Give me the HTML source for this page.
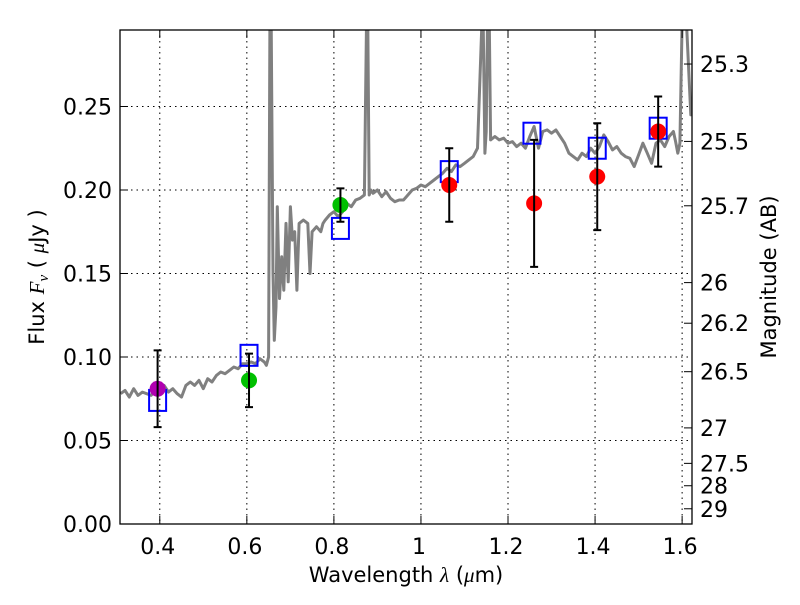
<!DOCTYPE html>
<html><head><meta charset="utf-8"><style>
body{margin:0;background:#fff;}
svg text{font-family:"DejaVu Sans","Liberation Sans",sans-serif;}
</style></head><body>
<svg id="chart" width="800" height="600" xmlns="http://www.w3.org/2000/svg">
<rect width="800" height="600" fill="#fff"/>
<defs><clipPath id="clip"><rect x="120" y="30" width="572" height="494"/></clipPath></defs>
<g id="grid"></g>
<g id="plot" clip-path="url(#clip)"></g>
<g id="axes"></g>
<rect x="120" y="30" width="572" height="494" fill="none" stroke="#000" stroke-width="1.3"/>
<text x="406" y="582" font-size="21" text-anchor="middle">Wavelength  <tspan font-style="italic" font-family="Liberation Serif,serif">λ</tspan> (<tspan font-style="italic" font-family="Liberation Serif,serif">μ</tspan>m)</text>
<text transform="translate(44,277) rotate(-90)" font-size="21" text-anchor="middle">Flux  <tspan font-style="italic" font-family="Liberation Serif,serif">F<tspan font-size="15" dy="4">ν</tspan></tspan><tspan dy="-4">  (  </tspan><tspan font-style="italic" font-family="Liberation Serif,serif">μ</tspan>Jy )</text>
<text transform="translate(776,277) rotate(-90)" font-size="21" text-anchor="middle">Magnitude (AB)</text>
</svg>
<script>
const xTicks=[0.4,0.6,0.8,1.0,1.2,1.4,1.6];
const xTickLabels=["0.4","0.6","0.8","1","1.2","1.4","1.6"];
const yTicks=[0,0.05,0.10,0.15,0.20,0.25];
const yTickLabels=["0.00","0.05","0.10","0.15","0.20","0.25"];
const magTicks=[25.3,25.5,25.7,26,26.2,26.5,27,27.5,28,29];
const specWave=[0.31,0.32,0.33,0.34,0.35,0.36,0.37,0.38,0.39,0.40,0.41,0.42,0.43,0.44,0.45,0.46,0.47,0.48,0.49,0.50,0.51,0.52,0.53,0.54,0.55,0.56,0.57,0.58,0.59,0.60,0.61,0.62,0.63,0.64,0.645,0.65,0.653,0.656,0.66,0.663,0.667,0.67,0.675,0.68,0.685,0.69,0.695,0.70,0.705,0.71,0.715,0.72,0.73,0.74,0.745,0.75,0.76,0.77,0.775,0.78,0.79,0.80,0.81,0.82,0.83,0.84,0.85,0.86,0.87,0.875,0.878,0.881,0.885,0.89,0.90,0.91,0.92,0.93,0.94,0.95,0.96,0.97,0.98,0.99,1.00,1.01,1.02,1.03,1.04,1.05,1.06,1.07,1.08,1.09,1.10,1.11,1.12,1.13,1.14,1.143,1.147,1.15,1.153,1.157,1.16,1.17,1.18,1.19,1.20,1.21,1.22,1.23,1.24,1.25,1.26,1.27,1.28,1.29,1.30,1.31,1.32,1.33,1.34,1.35,1.36,1.37,1.38,1.39,1.40,1.41,1.42,1.43,1.44,1.45,1.46,1.47,1.48,1.49,1.50,1.51,1.52,1.53,1.54,1.55,1.56,1.57,1.58,1.585,1.59,1.595,1.60,1.61,1.62,1.63];
const specFlux=[0.078,0.080,0.076,0.081,0.077,0.079,0.078,0.077,0.080,0.081,0.083,0.079,0.081,0.078,0.076,0.083,0.085,0.083,0.086,0.081,0.087,0.085,0.089,0.091,0.090,0.092,0.094,0.093,0.096,0.096,0.097,0.096,0.099,0.097,0.095,0.100,0.300,0.300,0.150,0.110,0.130,0.190,0.135,0.160,0.140,0.180,0.145,0.190,0.170,0.175,0.140,0.180,0.182,0.180,0.150,0.175,0.178,0.175,0.180,0.182,0.185,0.187,0.184,0.187,0.192,0.190,0.194,0.195,0.197,0.300,0.300,0.197,0.200,0.198,0.200,0.196,0.199,0.195,0.193,0.194,0.194,0.197,0.200,0.201,0.203,0.202,0.204,0.206,0.208,0.210,0.213,0.211,0.215,0.214,0.216,0.218,0.220,0.225,0.300,0.300,0.222,0.235,0.300,0.300,0.230,0.232,0.230,0.231,0.228,0.229,0.226,0.228,0.225,0.232,0.238,0.225,0.235,0.236,0.234,0.236,0.232,0.228,0.222,0.220,0.218,0.222,0.220,0.225,0.222,0.226,0.233,0.229,0.224,0.226,0.222,0.220,0.219,0.214,0.221,0.228,0.222,0.216,0.228,0.230,0.226,0.232,0.235,0.229,0.222,0.228,0.300,0.300,0.245,0.245,0.238,0.230];
const fitWave=[0.395,0.605,0.815,1.065,1.255,1.405,1.545];
const fitFlux=[0.074,0.101,0.177,0.211,0.234,0.225,0.237];
const obsWave=[0.395,0.605,0.815,1.065,1.26,1.405,1.545];
const obsFlux=[0.081,0.086,0.191,0.203,0.192,0.208,0.235];
const obsErr=[0.023,0.016,0.010,0.022,0.038,0.032,0.021];
const obsColor=["#b000b0","#00c000","#00c000","#ff0000","#ff0000","#ff0000","#ff0000"];
const X0=0.3086,X1=1.6227,Y0=0,Y1=0.2958;
const sx=v=>120+(v-X0)/(X1-X0)*572;
const sy=v=>524-(v-Y0)/(Y1-Y0)*494;
const NS="http://www.w3.org/2000/svg";
function mk(parent,tag,attrs){const e=document.createElementNS(NS,tag);for(const k in attrs)e.setAttribute(k,attrs[k]);document.getElementById(parent).appendChild(e);return e;}
xTicks.forEach((t,i)=>{const x=sx(t);
 let g=mk('grid','line',{x1:x,x2:x,y1:30,y2:524,stroke:'#000','stroke-width':1,'stroke-dasharray':'1.5,4'});
 
 let tk=mk('axes','line',{x1:x,x2:x,y1:524,y2:516,stroke:'#000'});
 
 let tt=mk('axes','line',{x1:x,x2:x,y1:30,y2:38,stroke:'#000'});
 
 let l=mk('axes','text',{x:x-2,y:554,'font-size':22,'text-anchor':'middle'});l.textContent=xTickLabels[i];
 });
yTicks.forEach((t,i)=>{const y=sy(t);
 if(t>0){let g=mk('grid','line',{x1:120,x2:692,y1:y,y2:y,stroke:'#000','stroke-width':1,'stroke-dasharray':'1.5,4'});
 }
 let tk=mk('axes','line',{x1:120,x2:128,y1:y,y2:y,stroke:'#000'});
 
 let l=mk('axes','text',{x:112,y:y+8,'font-size':22,'text-anchor':'end'});l.textContent=yTickLabels[i];
 });
magTicks.forEach(m=>{const f=Math.pow(10,(23.9-m)/2.5);const y=sy(f);
 let tk=mk('axes','line',{x1:684,x2:692,y1:y,y2:y,stroke:'#000'});
 
 let l=mk('axes','text',{x:700,y:y+8,'font-size':22});l.textContent=String(m);
 });
const pts=specWave.map((w,i)=>sx(w).toFixed(1)+','+sy(specFlux[i]).toFixed(1)).join(' ');
const sp=mk('plot','polyline',{points:pts,fill:'none',stroke:'#808080','stroke-width':3,'stroke-linejoin':'round'});

fitWave.forEach((w,i)=>{const x=sx(w),y=sy(fitFlux[i]);
 let r=mk('plot','rect',{x:x-8.5,y:y-10.5,width:17,height:21,fill:'none',stroke:'#0000ff','stroke-width':2});
 });
obsWave.forEach((w,i)=>{const x=sx(w),y=sy(obsFlux[i]),yt=sy(obsFlux[i]+obsErr[i]),yb=sy(obsFlux[i]-obsErr[i]);
 let c=mk('plot','circle',{cx:x,cy:y,r:8,fill:obsColor[i]});
 
 let e=mk('plot','path',{d:`M${x},${yt}V${yb}M${x-4},${yt}H${x+4}M${x-4},${yb}H${x+4}`,stroke:'#000','stroke-width':2,fill:'none'});
 });
</script>
</body></html>
